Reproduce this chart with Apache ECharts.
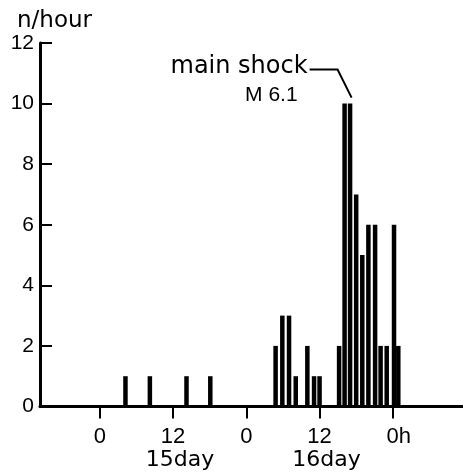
<!DOCTYPE html>
<html>
<head>
<meta charset="utf-8">
<script src="https://cdn.jsdelivr.net/npm/echarts@6/dist/echarts.min.js"></script>
<style>
  html, body { margin: 0; padding: 0; background: #fff; }
  #main { width: 463px; height: 475px; }
</style>
</head>
<body>
<div id="main"></div>
<script>
// hours counted from 0h of the 15th
let hours = [4.2, 8.2, 14.2, 18.1, 28.8, 29.9, 31, 32.1, 34, 35.1, 36, 39.2, 40.1, 41, 42, 43, 44, 45.1, 46, 47, 48.2, 48.9]
let counts = [1, 1, 1, 1, 2, 3, 3, 1, 2, 1, 1, 2, 10, 10, 7, 5, 6, 6, 2, 2, 6, 2]
let tickHours = [0, 12, 24, 36, 48]
let tickLabels = ['0', '12', '0', '12', '0h']
let dayLabels = ['', '15day', '', '16day', '']
let mainShock = [40.1, 10]

let font = 'DejaVu Sans'
let numFont = 'Liberation Sans'
let chart = echarts.init(document.getElementById('main'))

let option = {
  animation: false,
  title: {
    text: 'n/hour',
    left: 12,
    top: 5,
    textStyle: { fontFamily: font, fontSize: 23, fontWeight: 'normal', color: '#000' }
  },
  grid: { left: 40, right: 0, top: 43, bottom: 68.5, containLabel: false },
  xAxis: {
    type: 'value',
    min: -9.8,
    max: 59.5,
    splitLine: { show: false },
    axisLine: { lineStyle: { color: '#000', width: 3 } },
    axisTick: {
      customValues: tickHours,
      length: 12,
      lineStyle: { color: '#000', width: 2 }
    },
    axisLabel: {
      customValues: tickHours,
      margin: 19,
      formatter: function (v) {
        let i = tickHours.indexOf(v)
        if (i < 0) return ''
        if (dayLabels[i]) return '{n|' + tickLabels[i] + '}\n{d|' + dayLabels[i] + '}'
        if (tickLabels[i] === '0h') return '{h|0h}'
        return '{n|' + tickLabels[i] + '}'
      },
      rich: {
        n: { fontFamily: numFont, fontSize: 22, color: '#000', lineHeight: 23 },
        d: { fontFamily: font, fontSize: 22, color: '#000', lineHeight: 23, padding: [0, 0, 0, 14] },
        h: { fontFamily: numFont, fontSize: 22, color: '#000', lineHeight: 23, padding: [0, 0, 0, 12] }
      }
    }
  },
  yAxis: {
    type: 'value',
    min: 0,
    max: 12,
    interval: 2,
    splitLine: { show: false },
    axisLine: { show: true, onZero: false, lineStyle: { color: '#000', width: 3 } },
    axisTick: { show: true, inside: true, length: 12, lineStyle: { color: '#000', width: 2 } },
    axisLabel: { margin: 6, fontFamily: numFont, fontSize: 21, color: '#000' }
  },
  series: [
    {
      type: 'bar',
      barWidth: 4.5,
      itemStyle: { color: '#000' },
      data: hours.map((h, i) => [h, counts[i]])
    }
  ]
}
chart.setOption(option)

// annotation anchored to the main shock bar top
let p = chart.convertToPixel({ gridIndex: 0 }, mainShock)
chart.setOption({
  graphic: [
    {
      type: 'polyline',
      shape: { points: [[p[0] - 35, p[1] - 34], [p[0] - 7, p[1] - 34], [p[0] + 7, p[1] - 6]] },
      style: { stroke: '#000', lineWidth: 2, fill: null }
    },
    {
      type: 'text',
      x: p[0] - 37,
      y: p[1] - 37,
      style: { text: 'main shock', fontFamily: font, fontSize: 24, fill: '#000', align: 'right', verticalAlign: 'middle' }
    },
    {
      type: 'text',
      x: p[0] - 47,
      y: p[1] - 8,
      style: { text: 'M 6.1', fontFamily: numFont, fontSize: 21, fill: '#000', align: 'right', verticalAlign: 'middle' }
    }
  ]
})
</script>
</body>
</html>
